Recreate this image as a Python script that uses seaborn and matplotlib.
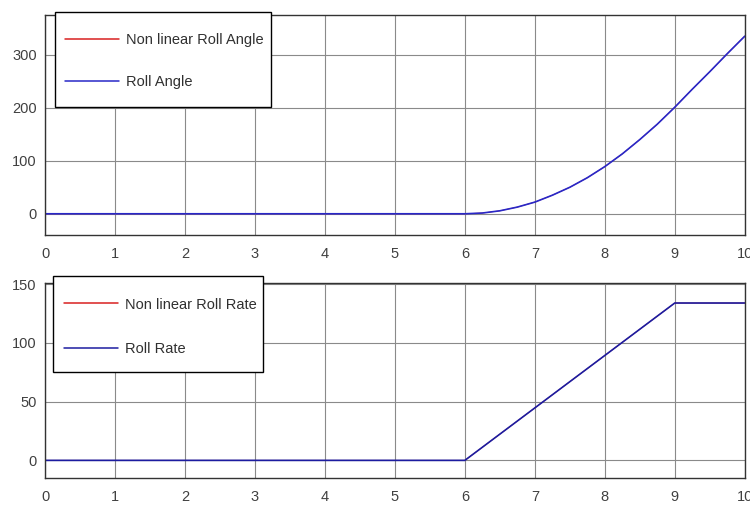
import matplotlib
matplotlib.use('Agg')
import matplotlib.pyplot as plt
from matplotlib.patches import Rectangle
import seaborn as sns
import pandas as pd

# time axis and signals
t_angle = [0, 1, 2, 3, 4, 5, 6, 6.25, 6.5, 6.75, 7, 7.25, 7.5, 7.75, 8,
           8.25, 8.5, 8.75, 9, 9.25, 9.5, 9.75, 10]
roll_angle = [0, 0, 0, 0, 0, 0, 0, 1.4, 5.6, 12.6, 22, 35, 50, 68, 89,
              113, 140, 169, 201, 235, 268, 302, 335]
nonlin_roll_angle = roll_angle

t_rate = [0, 6, 9, 10]
roll_rate = [0, 0, 134, 134]
nonlin_roll_rate = roll_rate

x_ticks = list(range(0, 11))
angle_ticks = [0, 100, 200, 300]
rate_ticks = [0, 50, 100, 150]

sns.set_style('white')
plt.rcParams['font.family'] = ['Liberation Sans', 'DejaVu Sans']

df_a = pd.DataFrame({'t': t_angle, 'nl': nonlin_roll_angle, 'lin': roll_angle})
df_r = pd.DataFrame({'t': t_rate, 'nl': nonlin_roll_rate, 'lin': roll_rate})

fig = plt.figure(figsize=(7.5, 5.05), dpi=100)
ax1 = fig.add_axes([0.06, 0.5347, 0.933, 0.4356])
ax2 = fig.add_axes([0.06, 0.0535, 0.933, 0.386])

red = '#d82020'

# red (non linear) drawn first, blue on top hides it like in the scope
sns.lineplot(data=df_a, x='t', y='nl', ax=ax1, color=red, lw=0.6, label='Non linear Roll Angle')
sns.lineplot(data=df_a, x='t', y='lin', ax=ax1, color='#2828c8', lw=1.2, label='Roll Angle')
sns.lineplot(data=df_r, x='t', y='nl', ax=ax2, color=red, lw=0.6, label='Non linear Roll Rate')
sns.lineplot(data=df_r, x='t', y='lin', ax=ax2, color='#1c1ca0', lw=1.2, label='Roll Rate')

# legend box (x, y, w, h in axes fraction), anchor of the entries, row spacing
setups = [(ax1, angle_ticks, (-40, 375), (0.0143, 0.582, 0.3086, 0.430), (0.0286, 0.790), 1.95),
          (ax2, rate_ticks, (-15, 151), (0.0119, 0.544, 0.299, 0.493), (0.0276, 0.775), 2.1)]
for ax, yt, yl, box, anchor, spacing in setups:
    ax.set_xlim(0, 10)
    ax.set_ylim(*yl)
    ax.set_xticks(x_ticks)
    ax.set_yticks(yt)
    ax.set_xlabel('')
    ax.set_ylabel('')
    ax.grid(True, color='#8a8a8a', lw=0.8)
    ax.tick_params(direction='in', length=4, color='#333333', labelsize=10.5,
                   labelcolor='#404040')
    ax.tick_params(axis='x', pad=9)
    ax.tick_params(axis='y', pad=6)
    for s in ax.spines.values():
        s.set_color('#333333')
        s.set_linewidth(1.0)
    frame = Rectangle(box[:2], box[2], box[3], transform=ax.transAxes,
                      facecolor='white', edgecolor='black', lw=1.0,
                      zorder=4, clip_on=False)
    ax.add_patch(frame)
    leg = ax.legend(loc='center left', bbox_to_anchor=anchor, borderaxespad=0,
                    borderpad=0, fontsize=10.5, handlelength=3.7,
                    labelspacing=spacing, handletextpad=0.48, frameon=False)
    leg.set_zorder(5)
    for h in leg.legend_handles:
        h.set_linewidth(1.1)
    for txt in leg.get_texts():
        txt.set_color('#303030')

fig.savefig('out.png', dpi=100)
